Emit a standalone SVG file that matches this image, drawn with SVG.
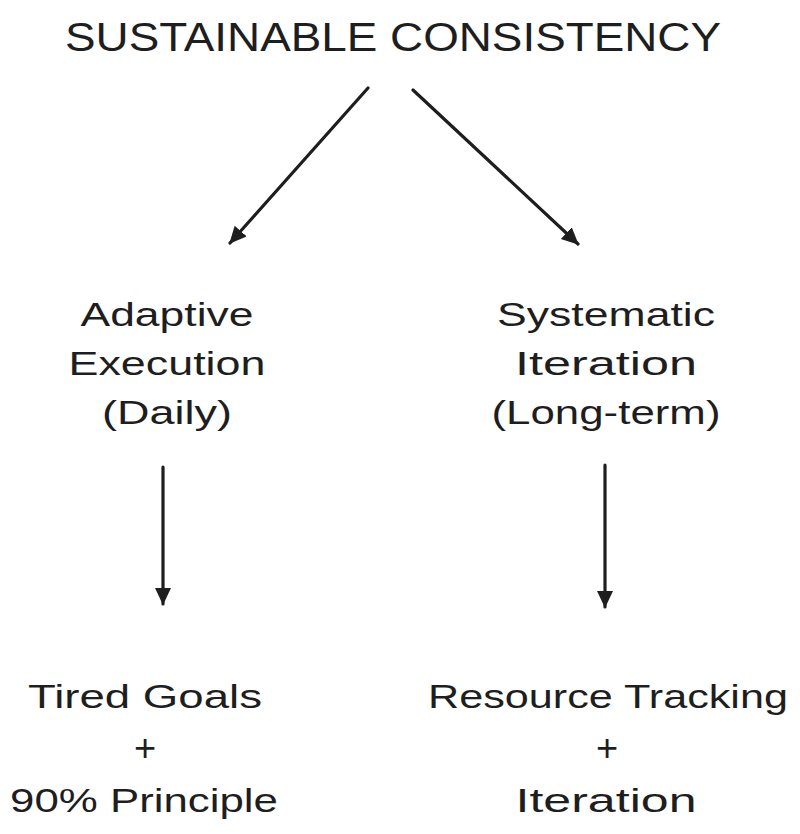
<svg xmlns="http://www.w3.org/2000/svg" width="800" height="834" viewBox="0 0 800 834">
<style>
text{font-family:"Liberation Sans","DejaVu Sans",sans-serif;fill:#1e1e1e;text-anchor:middle}
.t{font-size:40px}
.n{font-size:33px}
.p{font-size:38px}
.c{stroke:#1e1e1e;stroke-width:3.2;fill:none;stroke-linecap:round}
</style>
<defs>
<marker id="ah" markerUnits="userSpaceOnUse" markerWidth="20" markerHeight="18" refX="16" refY="8" orient="auto">
<path d="M0,0 L17,8 L0,16 Z" fill="#1e1e1e"/>
</marker>
</defs>
<rect width="800" height="834" fill="#ffffff"/>
<g id="title"><text class="t" x="393" y="51" textLength="656" lengthAdjust="spacingAndGlyphs">SUSTAINABLE CONSISTENCY</text></g>
<g id="connectors">
<line class="c" x1="368" y1="88" x2="230" y2="243" marker-end="url(#ah)"/>
<line class="c" x1="413" y1="90" x2="578" y2="244" marker-end="url(#ah)"/>
<line class="c" x1="163" y1="467" x2="163" y2="604" marker-end="url(#ah)"/>
<line class="c" x1="605" y1="465" x2="605" y2="607" marker-end="url(#ah)"/>
</g>
<g id="adaptive">
<text class="n" x="167" y="326" textLength="173" lengthAdjust="spacingAndGlyphs">Adaptive</text>
<text class="n" x="167" y="375" textLength="197" lengthAdjust="spacingAndGlyphs">Execution</text>
<text class="n" x="167" y="424" textLength="130" lengthAdjust="spacingAndGlyphs">(Daily)</text>
</g>
<g id="systematic">
<text class="n" x="606" y="326" textLength="218" lengthAdjust="spacingAndGlyphs">Systematic</text>
<text class="n" x="606" y="375" textLength="182" lengthAdjust="spacingAndGlyphs">Iteration</text>
<text class="n" x="606" y="424" textLength="229" lengthAdjust="spacingAndGlyphs">(Long-term)</text>
</g>
<g id="tired">
<text class="n" x="145" y="708" textLength="234" lengthAdjust="spacingAndGlyphs">Tired Goals</text>
<text class="p" x="145" y="761">+</text>
<text class="n" x="144" y="812" textLength="268" lengthAdjust="spacingAndGlyphs">90% Principle</text>
</g>
<g id="resource">
<text class="n" x="608" y="708" textLength="360" lengthAdjust="spacingAndGlyphs">Resource Tracking</text>
<text class="p" x="607" y="761">+</text>
<text class="n" x="606" y="812" textLength="181" lengthAdjust="spacingAndGlyphs">Iteration</text>
</g>
</svg>
